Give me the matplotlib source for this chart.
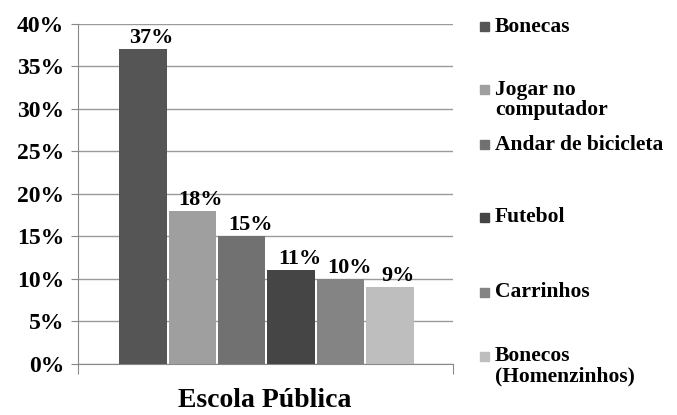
import matplotlib.pyplot as plt
from matplotlib.patches import Rectangle
from matplotlib.ticker import PercentFormatter

# dados
categorias = ['Bonecas', 'Jogar no\ncomputador', 'Andar de bicicleta', 'Futebol',
              'Carrinhos', 'Bonecos\n(Homenzinhos)']
valores = [0.37, 0.18, 0.15, 0.11, 0.10, 0.09]
rotulos = ['37%', '18%', '15%', '11%', '10%', '9%']
cores = ['#555555', '#9f9f9f', '#717171', '#454545', '#848484', '#bebebe']
titulo = 'Escola Pública'

fonte = ['Liberation Serif', 'DejaVu Serif']
plt.rcParams['font.family'] = fonte
plt.rcParams['font.weight'] = 'bold'

fig = plt.figure(figsize=(6.77, 4.15), dpi=100)
ax = fig.add_axes([0.1152, 0.1229, 0.5539, 0.8193])

x = list(range(len(valores)))
ax.bar(x, valores, width=0.96, color=cores, zorder=3)

for xi, v, r in zip(x, valores, rotulos):
    ax.annotate(r, (xi, v), xytext=(6, 1), textcoords='offset points',
                ha='center', va='bottom', fontsize=16, fontweight='bold',
                family=fonte)

ax.set_xlim(-1.31, 6.27)
ax.set_ylim(0, 0.40)
ax.set_yticks([0, 0.05, 0.10, 0.15, 0.20, 0.25, 0.30, 0.35, 0.40])
ax.yaxis.set_major_formatter(PercentFormatter(1.0, decimals=0))
ax.tick_params(axis='y', labelsize=17, length=5, color='#888888', pad=5)
ax.set_xticks([-1.31, 6.27])
ax.set_xticklabels([])
ax.tick_params(axis='x', length=7, color='#888888', direction='out')
ax.grid(axis='y', color='#9a9a9a', linewidth=1, zorder=0)

for s in ['top', 'right']:
    ax.spines[s].set_visible(False)
ax.spines['left'].set_color('#888888')
ax.spines['bottom'].set_color('#888888')

fig.text(265 / 677, 1 - 400 / 415, titulo, ha='center', va='center',
         fontsize=20, fontweight='bold', family=fonte)

# legenda manual
ys = [27, 90, 145, 217, 292, 356]
for cat, cor, yp in zip(categorias, cores, ys):
    yf = 1 - yp / 415
    fig.patches.append(Rectangle((480 / 677, yf - 4.5 / 415), 9 / 677, 9 / 415,
                                 transform=fig.transFigure, color=cor, figure=fig))
    fig.text(495 / 677, yf + 10 / 415, cat, ha='left', va='top', fontsize=15.5,
             fontweight='bold', family=fonte, linespacing=1.0)

fig.savefig('out.png', dpi=100)
